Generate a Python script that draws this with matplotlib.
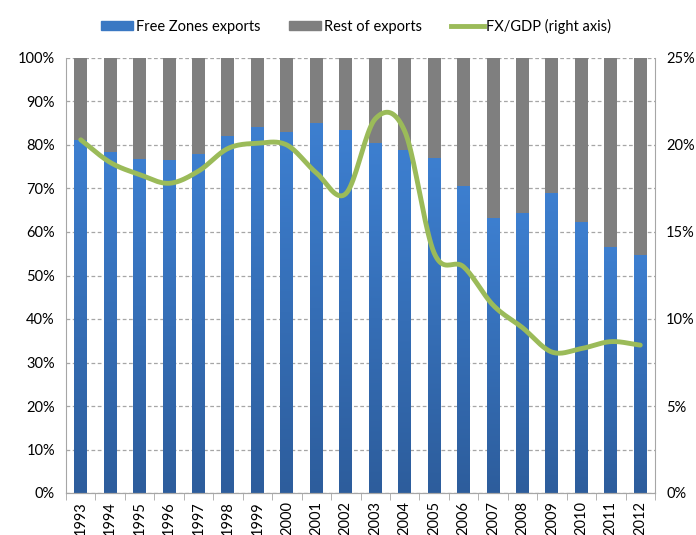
import numpy as np
import matplotlib
matplotlib.use("Agg")
import matplotlib.pyplot as plt
from matplotlib.colors import LinearSegmentedColormap
from matplotlib.ticker import PercentFormatter, FixedLocator

years = [str(y) for y in range(1993, 2013)]
free_zones = [81.1, 78.5, 76.8, 76.6, 77.9, 82.1, 84.1, 83.0, 85.0, 83.4,
              80.4, 78.9, 77.1, 70.6, 63.3, 64.4, 68.9, 62.3, 56.6, 54.7]
rest = [100 - v for v in free_zones]
fx_gdp = [20.3, 19.0, 18.3, 17.8, 18.5, 19.8, 20.1, 20.0, 18.4, 17.2,
          21.5, 20.8, 13.8, 13.0, 10.8, 9.5, 8.1, 8.3, 8.7, 8.5]

plt.rcParams['font.family'] = ['Lato', 'DejaVu Sans']

fig = plt.figure(figsize=(6.96, 5.35), dpi=100)
ax = fig.add_axes([66/696, 42/535, (655-66)/696, (493-58)/535])
ax2 = ax.twinx()

x = np.arange(len(years))
w = 0.44
cmap = LinearSegmentedColormap.from_list("b", ["#2D5D9C", "#3D7FD0"])
grad = np.linspace(0, 1, 256).reshape(-1, 1)
bars = ax.bar(x, free_zones, width=w, color="#3A78C3", zorder=2)
for b in bars:
    x0, y0 = b.get_x(), b.get_y()
    im = ax.imshow(grad, cmap=cmap, origin="lower", aspect="auto",
                   extent=[x0, x0 + b.get_width(), y0, y0 + b.get_height()], zorder=2.1)
    im.set_clip_path(b)
ax.bar(x, rest, bottom=free_zones, width=w, color="#7F7F7F", zorder=2)

ax.set_xlim(-0.5, len(years) - 0.5)
ax.set_ylim(0, 100)
ax.yaxis.set_major_locator(FixedLocator(np.arange(0, 101, 10)))
ax.yaxis.set_major_formatter(PercentFormatter(decimals=0))
ax.grid(axis="y", color="#A6A6A6", linestyle=(0, (3, 2)), linewidth=0.9, zorder=0)
ax.set_axisbelow(True)

ax.set_xticks(x)
ax.set_xticklabels(years, rotation=90, fontsize=10.5)
ax.xaxis.set_minor_locator(FixedLocator(np.arange(-0.5, len(years), 1)))
ax.tick_params(axis="x", which="major", length=0, pad=6)
ax.tick_params(axis="x", which="minor", length=5, color="#A6A6A6", direction="out")
ax.tick_params(axis="y", length=0, labelsize=10.5, pad=8)

# smooth line (Catmull-Rom rendering through data points)
def catmull(xs, ys, n=20):
    xs = np.asarray(xs, float); ys = np.asarray(ys, float)
    px = np.concatenate([[2*xs[0]-xs[1]], xs, [2*xs[-1]-xs[-2]]])
    py = np.concatenate([[2*ys[0]-ys[1]], ys, [2*ys[-1]-ys[-2]]])
    ox, oy = [], []
    for i in range(1, len(px) - 2):
        t = np.linspace(0, 1, n, endpoint=False)
        for arr, out in ((px, ox), (py, oy)):
            p0, p1, p2, p3 = arr[i-1], arr[i], arr[i+1], arr[i+2]
            out.extend(0.5 * ((2*p1) + (-p0 + p2)*t + (2*p0 - 5*p1 + 4*p2 - p3)*t**2
                              + (-p0 + 3*p1 - 3*p2 + p3)*t**3))
    ox.append(xs[-1]); oy.append(ys[-1])
    return np.array(ox), np.array(oy)

sx, sy = catmull(x, fx_gdp)
ax2.plot(sx, sy, color="#9BBB59", linewidth=3.5, solid_capstyle="round", zorder=5)
ax2.set_ylim(0, 25)
ax2.yaxis.set_major_locator(FixedLocator(np.arange(0, 26, 5)))
ax2.yaxis.set_major_formatter(PercentFormatter(decimals=0))
ax2.tick_params(axis="y", length=0, labelsize=10.5, pad=8)

for a in (ax, ax2):
    a.spines["top"].set_visible(False)
    a.spines["left"].set_color("#A6A6A6")
    a.spines["right"].set_color("#A6A6A6")
    a.spines["bottom"].set_color("#A6A6A6")
ax.spines["right"].set_visible(False)
ax2.spines["left"].set_visible(False)

from matplotlib.patches import Patch
from matplotlib.lines import Line2D
handles = [Patch(color="#3A78C3"), Patch(color="#7F7F7F"),
           Line2D([0], [0], color="#9BBB59", linewidth=3.5)]
labels = ["Free Zones exports", "Rest of exports", "FX/GDP (right axis)"]
fig.legend(handles, labels, loc="center", bbox_to_anchor=(356/696, 1 - 26/535), ncol=3,
           frameon=False, fontsize=10.5, handlelength=2.2, handleheight=0.6,
           columnspacing=2.0, handletextpad=0.2)

fig.savefig("out.png", dpi=100)
